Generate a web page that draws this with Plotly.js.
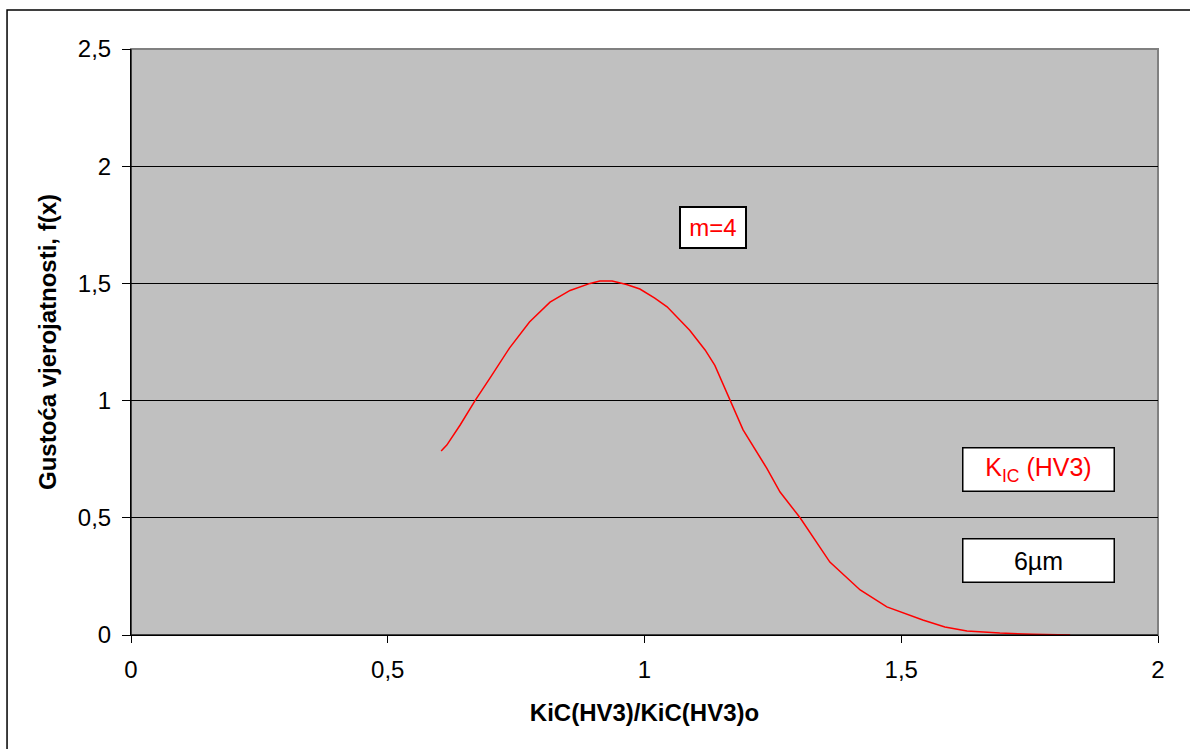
<!DOCTYPE html>
<html>
<head>
<meta charset="utf-8">
<script src="https://cdn.plot.ly/plotly-3.0.1.min.js"></script>
<style>html,body{margin:0;padding:0;background:#fff;}#chart{width:1190px;height:749px;}</style>
</head>
<body>
<div id="chart"></div>
<script>
const xVals = [0.604, 0.615, 0.641, 0.670, 0.699, 0.737, 0.776, 0.816, 0.855, 0.894, 0.913, 0.937, 0.965, 0.991, 1.020, 1.044, 1.088, 1.118, 1.137, 1.167, 1.192, 1.238, 1.264, 1.303, 1.361, 1.420, 1.472, 1.542, 1.585, 1.628, 1.692, 1.757, 1.829];
const yVals = [0.785, 0.810, 0.896, 1.000, 1.096, 1.224, 1.335, 1.420, 1.470, 1.500, 1.510, 1.510, 1.495, 1.476, 1.437, 1.400, 1.300, 1.216, 1.150, 1.000, 0.875, 0.712, 0.610, 0.500, 0.311, 0.192, 0.120, 0.064, 0.034, 0.017, 0.008, 0.003, 0.000];
const xTickVals = [0, 0.5, 1, 1.5, 2];
const xTickText = ['0', '0,5', '1', '1,5', '2'];
const yTickVals = [0, 0.5, 1, 1.5, 2, 2.5];
const yTickText = ['0', '0,5', '1', '1,5', '2', '2,5'];

const font = 'Liberation Sans, Arial, sans-serif';

const trace = {
  x: xVals, y: yVals, type: 'scatter', mode: 'lines',
  line: {color: '#ff0000', width: 1.5}, hoverinfo: 'none'
};

const layout = {
  width: 1190, height: 749,
  margin: {l: 131, r: 32, t: 49, b: 114},
  paper_bgcolor: '#ffffff', plot_bgcolor: '#c0c0c0',
  showlegend: false,
  font: {family: font, size: 24, color: '#000'},
  xaxis: {
    range: [0, 2], tickvals: xTickVals, ticktext: xTickText,
    showgrid: false, zeroline: false,
    showline: true, linecolor: '#000', linewidth: 1,
    ticks: 'outside', ticklen: 7, tickcolor: '#000', tickwidth: 1,
    ticklabelstandoff: 6,
    tickfont: {family: font, size: 24, color: '#000'},
    title: {text: '<b>KiC(HV3)/KiC(HV3)o</b>', font: {family: font, size: 24, color: '#000'}, standoff: 22}
  },
  yaxis: {
    range: [0, 2.5], tickvals: yTickVals, ticktext: yTickText,
    showgrid: true, gridcolor: '#000', gridwidth: 1, zeroline: false,
    showline: true, linecolor: '#000', linewidth: 1,
    ticks: 'outside', ticklen: 8, tickcolor: '#000', tickwidth: 1,
    ticklabelstandoff: 6,
    tickfont: {family: font, size: 24, color: '#000'},
    title: {text: '<b>Gustoća vjerojatnosti, f(x)</b>', font: {family: font, size: 24, color: '#000'}, standoff: 14}
  },
  shapes: [
    {type: 'rect', xref: 'paper', yref: 'paper', x0: 0, x1: 1, y0: 0, y1: 1,
     line: {color: '#808080', width: 2}, layer: 'below'},
    {type: 'line', xref: 'paper', yref: 'paper', x0: 0, x1: 0, y0: 0, y1: 1, line: {color: '#000', width: 1}},
    {type: 'line', xref: 'paper', yref: 'paper', x0: 0, x1: 1, y0: 0, y1: 0, line: {color: '#000', width: 1}},
    {type: 'rect', xref: 'paper', yref: 'paper', x0: -0.1207, x1: 1.2, y0: -0.3, y1: 1.0666,
     line: {color: '#000', width: 1.5}, fillcolor: 'rgba(0,0,0,0)'}
  ],
  annotations: [
    {x: 1.133, y: 1.74, xref: 'x', yref: 'y', text: 'm=4', showarrow: false,
     font: {family: font, size: 24, color: '#ff0000'}, bgcolor: '#fff', bordercolor: '#000', borderwidth: 2,
     width: 62, height: 37},
    {x: 1.767, y: 0.708, xref: 'x', yref: 'y', text: 'K<sub>IC</sub> (HV3)', showarrow: false,
     font: {family: font, size: 25, color: '#ff0000'}, bgcolor: '#fff', bordercolor: '#000', borderwidth: 1.5,
     width: 148, height: 40},
    {x: 1.767, y: 0.316, xref: 'x', yref: 'y', text: '6µm', showarrow: false,
     font: {family: font, size: 25, color: '#000'}, bgcolor: '#fff', bordercolor: '#000', borderwidth: 1.5,
     width: 148, height: 40}
  ]
};

Plotly.newPlot('chart', [trace], layout, {displayModeBar: false, staticPlot: true});
</script>
</body>
</html>
